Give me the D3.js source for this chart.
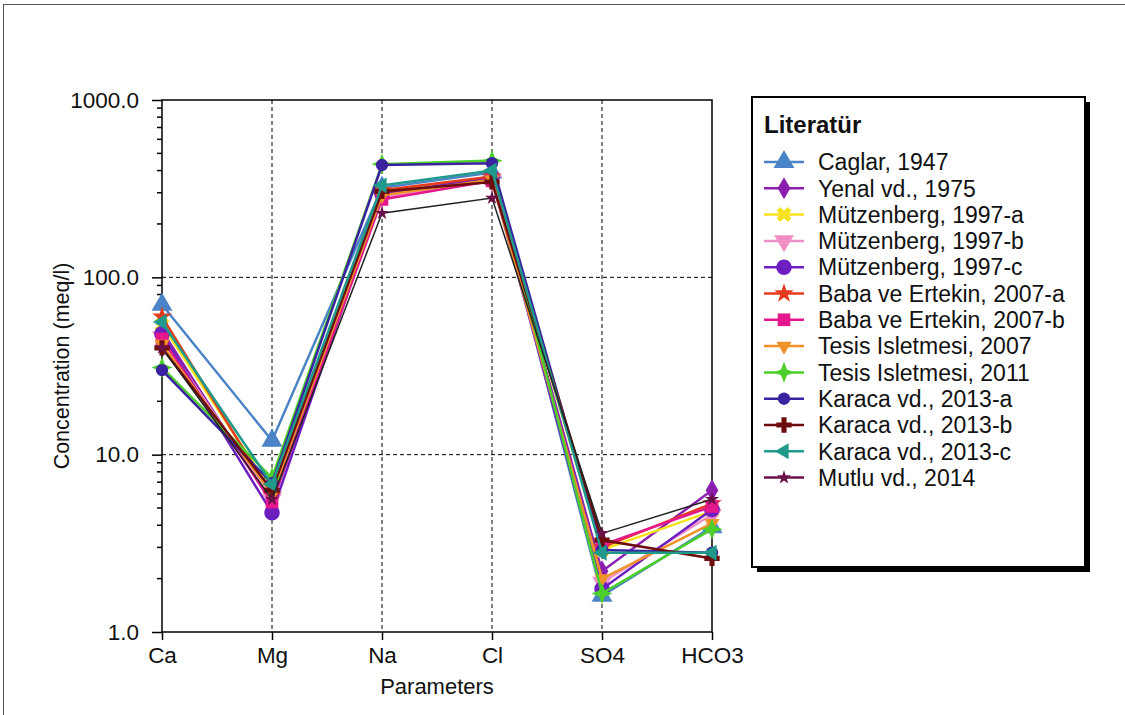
<!DOCTYPE html>
<html>
<head>
<meta charset="utf-8">
<script src="https://cdn.jsdelivr.net/npm/d3@7"></script>
<style>
  body { margin: 0; background: #fff; }
  svg { display: block; font-family: "Liberation Sans", Arial, sans-serif; }
</style>
</head>
<body>
<div id="chart"></div>
<script>
// parameters on the x axis
const categories = ["Ca", "Mg", "Na", "Cl", "SO4", "HCO3"];
const yTicks = [1, 10, 100, 1000];

// concentration (meq/l) per study, in category order
const caglar1947 = [70, 12, 320, 390, 1.6, 3.9];
const yenal1975 = [50, 5.3, 300, 370, 2.2, 6.3];
const mutzenberg1997a = [54, 6.2, 300, 360, 2.9, 4.8];
const mutzenberg1997b = [46, 5.6, 285, 350, 1.9, 4.6];
const mutzenberg1997c = [48, 4.7, 295, 365, 1.75, 4.9];
const babaErtekin2007a = [60, 5.9, 310, 370, 3.0, 5.3];
const babaErtekin2007b = [45, 5.4, 275, 350, 3.1, 5.1];
const tesis2007 = [42, 6.0, 290, 355, 2.0, 4.1];
const tesis2011 = [31, 7.4, 435, 455, 1.65, 3.8];
const karaca2013a = [30, 6.9, 430, 440, 2.9, 2.8];
const karaca2013b = [40, 6.3, 305, 345, 3.3, 2.6];
const karaca2013c = [56, 6.8, 330, 400, 2.8, 2.8];
const mutlu2014 = [40, 5.6, 230, 280, 3.6, 5.6];

const seriesNames = [
  "Caglar, 1947", "Yenal vd., 1975", "Mützenberg, 1997-a", "Mützenberg, 1997-b",
  "Mützenberg, 1997-c", "Baba ve Ertekin, 2007-a", "Baba ve Ertekin, 2007-b",
  "Tesis Isletmesi, 2007", "Tesis Isletmesi, 2011", "Karaca vd., 2013-a",
  "Karaca vd., 2013-b", "Karaca vd., 2013-c", "Mutlu vd., 2014"
];
const seriesValues = [
  caglar1947, yenal1975, mutzenberg1997a, mutzenberg1997b, mutzenberg1997c,
  babaErtekin2007a, babaErtekin2007b, tesis2007, tesis2011, karaca2013a,
  karaca2013b, karaca2013c, mutlu2014
];

// styles
const colors = [
  "#4a84c6", "#8a1fb0", "#f4e21c", "#f08fc6", "#6c1ec0", "#e53a1e", "#e4188c",
  "#f0922a", "#4ccf2a", "#3a22a0", "#6c0c0c", "#1f9a8a", "#6a1048"
];

// a four-pointed star
const star4 = {
  draw(ctx, size) {
    const r = Math.sqrt(size) * 0.75, s = r * 0.28;
    ctx.moveTo(0, -r);
    ctx.lineTo(s, -s);
    ctx.lineTo(r, 0);
    ctx.lineTo(s, s);
    ctx.lineTo(0, r);
    ctx.lineTo(-s, s);
    ctx.lineTo(-r, 0);
    ctx.lineTo(-s, -s);
    ctx.closePath();
  }
};
const markers = [
  { type: d3.symbolTriangle, size: 190, rot: 0 },
  { type: d3.symbolDiamond, size: 140, rot: 0 },
  { type: d3.symbolCross, size: 140, rot: 45 },
  { type: d3.symbolTriangle, size: 170, rot: 180 },
  { type: d3.symbolCircle, size: 190, rot: 0 },
  { type: d3.symbolStar, size: 120, rot: 0 },
  { type: d3.symbolSquare, size: 160, rot: 0 },
  { type: d3.symbolTriangle, size: 100, rot: 180 },
  { type: star4, size: 200, rot: 0 },
  { type: d3.symbolCircle, size: 120, rot: 0 },
  { type: d3.symbolCross, size: 130, rot: 0 },
  { type: d3.symbolTriangle, size: 110, rot: -90 },
  { type: d3.symbolStar, size: 60, rot: 0 }
];

const W = 1125, H = 715;
const m = { top: 100, left: 162, right: 712, bottom: 632 };

const svg = d3.select("#chart").append("svg")
  .attr("width", W).attr("height", H);

svg.append("rect")
  .attr("x", 3.5).attr("y", 4.5)
  .attr("width", W - 2).attr("height", H)
  .attr("fill", "#fff").attr("stroke", "#555").attr("stroke-width", 1);

const x = d3.scalePoint().domain(categories).range([m.left, m.right]);
const y = d3.scaleLog().domain([1, 1000]).range([m.bottom, m.top]);

// grid
const grid = svg.append("g").attr("stroke", "#000").attr("stroke-dasharray", "4,3");
grid.selectAll("line.v")
  .data(categories.slice(1, -1))
  .enter().append("line")
  .attr("x1", d => x(d)).attr("x2", d => x(d))
  .attr("y1", m.top).attr("y2", m.bottom);
grid.selectAll("line.h")
  .data([10, 100])
  .enter().append("line")
  .attr("x1", m.left).attr("x2", m.right)
  .attr("y1", d => y(d)).attr("y2", d => y(d));

svg.append("rect")
  .attr("x", m.left).attr("y", m.top)
  .attr("width", m.right - m.left).attr("height", m.bottom - m.top)
  .attr("fill", "none").attr("stroke", "#000").attr("stroke-width", 1.5);

// y axis with log minor ticks
const minor = [];
for (let dec = 1; dec < 1000; dec *= 10) {
  for (let k = 2; k <= 9; k++) minor.push(dec * k);
}
const yAxis = d3.axisLeft(y)
  .tickValues(yTicks)
  .tickFormat(d3.format(".1f"))
  .tickSize(10)
  .tickPadding(13);
const ya = svg.append("g").attr("transform", `translate(${m.left},0)`).call(yAxis);
ya.select(".domain").remove();
ya.selectAll("text").attr("font-size", 22.5).attr("fill", "#111").attr("font-family", "Liberation Sans");
ya.selectAll("line").attr("stroke", "#000").attr("stroke-width", 1.5);
ya.selectAll("line.minor")
  .data(minor)
  .enter().append("line")
  .attr("class", "minor")
  .attr("x1", -5).attr("x2", 0)
  .attr("y1", d => y(d)).attr("y2", d => y(d))
  .attr("stroke", "#000").attr("stroke-width", 1.5);

const xAxis = d3.axisBottom(x).tickSize(8).tickPadding(7);
const xa = svg.append("g").attr("transform", `translate(0,${m.bottom})`).call(xAxis);
xa.select(".domain").remove();
xa.selectAll("text").attr("font-size", 22.5).attr("fill", "#111").attr("font-family", "Liberation Sans");
xa.selectAll("line").attr("stroke", "#000").attr("stroke-width", 1.5);

svg.append("text")
  .attr("x", (m.left + m.right) / 2).attr("y", 694)
  .attr("text-anchor", "middle").attr("font-size", 22).attr("fill", "#111")
  .text("Parameters");
svg.append("text")
  .attr("transform", `translate(69,${(m.top + m.bottom) / 2}) rotate(-90)`)
  .attr("text-anchor", "middle").attr("font-size", 21.5).attr("fill", "#111")
  .text("Concentration (meq/l)");

// series
const line = d3.line()
  .x((d, i) => x(categories[i]))
  .y(d => y(d));

const series = seriesNames.map((name, i) => ({
  name, values: seriesValues[i], color: colors[i], marker: markers[i], idx: i
}));

const sg = svg.selectAll("g.series")
  .data(series)
  .enter().append("g").attr("class", "series");

sg.append("path")
  .attr("d", d => line(d.values))
  .attr("fill", "none")
  .attr("stroke", d => d.idx === 12 ? "#222" : d.color)
  .attr("stroke-width", d => d.idx === 12 ? 1.5 : 2.5);

sg.selectAll("path.mk")
  .data(d => d.values.map((v, i) => ({ v, i, s: d })))
  .enter().append("path")
  .attr("class", "mk")
  .attr("d", d => d3.symbol().type(d.s.marker.type).size(d.s.marker.size)())
  .attr("transform", d => `translate(${x(categories[d.i])},${y(d.v)}) rotate(${d.s.marker.rot})`)
  .attr("fill", d => d.s.color);

// legend
const lx = 752, ly = 97, lw = 333, lh = 470;
svg.append("rect")
  .attr("x", lx + 5).attr("y", ly + 5).attr("width", lw).attr("height", lh)
  .attr("fill", "#000");
svg.append("rect")
  .attr("x", lx).attr("y", ly).attr("width", lw).attr("height", lh)
  .attr("fill", "#fff").attr("stroke", "#000").attr("stroke-width", 2);
svg.append("text")
  .attr("x", 764).attr("y", 133)
  .attr("font-size", 24).attr("font-weight", "bold").attr("fill", "#111")
  .text("Literatür");

const lg = svg.selectAll("g.leg")
  .data(series)
  .enter().append("g").attr("class", "leg")
  .attr("transform", (d, i) => `translate(0,${162 + i * 26.3})`);
lg.append("line")
  .attr("x1", 764).attr("x2", 804)
  .attr("stroke", d => d.color).attr("stroke-width", 2.5);
lg.append("path")
  .attr("d", d => d3.symbol().type(d.marker.type).size(d.marker.size)())
  .attr("transform", d => `translate(784,0) rotate(${d.marker.rot})`)
  .attr("fill", d => d.color);
lg.append("text")
  .attr("x", 818).attr("dy", "0.36em")
  .attr("font-size", 23).attr("fill", "#111")
  .text(d => d.name);
</script>
</body>
</html>
